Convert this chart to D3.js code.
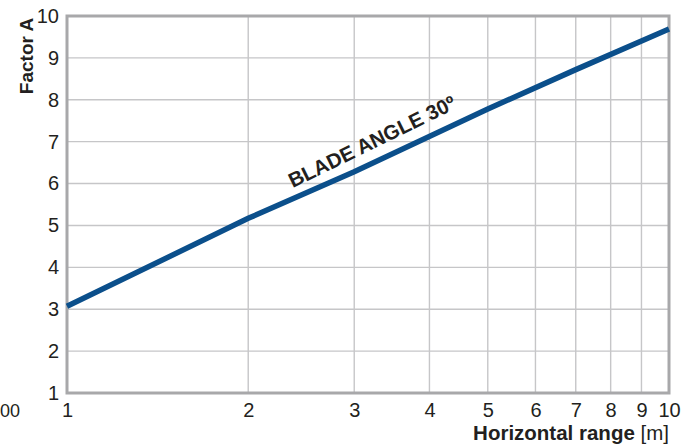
<!DOCTYPE html>
<html><head><meta charset="utf-8">
<script src="https://cdn.jsdelivr.net/npm/d3@7/dist/d3.min.js"></script>
<style>body{margin:0;background:#fff;}svg{display:block;font-family:"Liberation Sans",Arial,sans-serif;}</style>
</head><body>
<script>
const xTicks = [1,2,3,4,5,6,7,8,9,10];
const yTicks = [1,2,3,4,5,6,7,8,9,10];
const rangeM = [1, 2, 3, 5, 7, 10];
const factorA = [3.07, 5.17, 6.28, 7.78, 8.72, 9.69];
const curveLabel = "BLADE ANGLE 30º";
const xTitle = "Horizontal range";
const xUnit = " [m]";
const yTitle = "Factor A";
const strayLabel = "00";

const W = 696, H = 446;
const m = {l:67, r:27, t:16, b:53};
const svg = d3.select("body").append("svg").attr("width",W).attr("height",H);
const x = d3.scaleLog().domain([1,10]).range([m.l, W-m.r]);
const y = d3.scaleLinear().domain([1,10]).range([H-m.b, m.t]);

const g = svg.append("g");
// grid
g.selectAll("line.vg").data(xTicks.slice(1,-1)).join("line")
  .attr("x1",d=>x(d)).attr("x2",d=>x(d)).attr("y1",y(1)).attr("y2",y(10))
  .attr("stroke","#c6c6c8").attr("stroke-width",1.4);
g.selectAll("line.hg").data(yTicks.slice(1,-1)).join("line")
  .attr("y1",d=>y(d)).attr("y2",d=>y(d)).attr("x1",x(1)).attr("x2",x(10))
  .attr("stroke","#c6c6c8").attr("stroke-width",1.4);

// frame
g.append("rect").attr("x",x(1)).attr("y",y(10)).attr("width",x(10)-x(1)).attr("height",y(1)-y(10))
  .attr("fill","none").attr("stroke","#a8a8aa").attr("stroke-width",3);

// axes labels
const xAxis = d3.axisBottom(x).tickValues(xTicks).tickFormat(d3.format("d")).tickSize(0).tickPadding(10);
const xa = svg.append("g").attr("transform",`translate(0,${y(1)})`).call(xAxis);
xa.select(".domain").remove();
xa.selectAll("text").attr("font-size",20).attr("fill","#231f20").attr("font-family","Liberation Sans, Arial, sans-serif");

const yAxis = d3.axisLeft(y).tickValues(yTicks).tickFormat(d3.format("d")).tickSize(0).tickPadding(8);
const ya = svg.append("g").attr("transform",`translate(${x(1)},0)`).call(yAxis);
ya.select(".domain").remove();
ya.selectAll("text").attr("font-size",20).attr("fill","#231f20").attr("font-family","Liberation Sans, Arial, sans-serif");

// stray label at left
svg.append("text").attr("x",0).attr("y",y(1)+24).attr("text-anchor","start")
  .attr("font-size",18).attr("fill","#231f20").text(strayLabel);

// line
const line = d3.line().x((d,i)=>x(rangeM[i])).y(d=>y(d));
svg.append("path").datum(factorA).attr("d",line).attr("fill","none")
  .attr("stroke","#0b4f8b").attr("stroke-width",5.5).attr("stroke-linecap","butt");

// curve label
const lx = x(3.25), ly = y(6.85);
svg.append("text").attr("transform",`translate(${lx},${ly}) rotate(-26)`)
  .attr("text-anchor","middle").attr("font-size",20.5).attr("font-weight","bold")
  .attr("fill","#231f20").text(curveLabel);

// titles
const xt = svg.append("text").attr("x",x(10)).attr("y",H-6).attr("text-anchor","end")
  .attr("font-size",20.5).attr("fill","#231f20");
xt.append("tspan").attr("font-weight","bold").text(xTitle);
xt.append("tspan").text(xUnit);

svg.append("text").attr("transform",`translate(33,56) rotate(-90)`).attr("text-anchor","middle")
  .attr("font-size",19).attr("font-weight","bold").attr("fill","#231f20").text(yTitle);
</script>
</body></html>
